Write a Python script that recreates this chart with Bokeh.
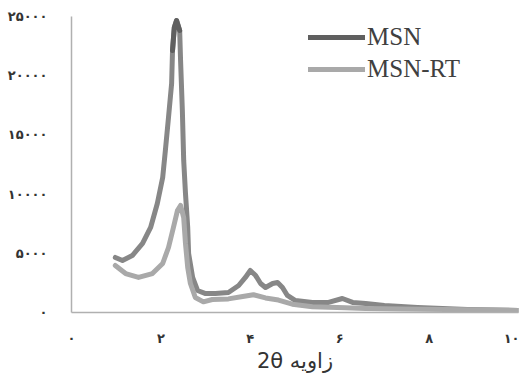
from bokeh.plotting import figure
from bokeh.models import Legend, LegendItem, FixedTicker
from bokeh.embed import file_html
from bokeh.resources import INLINE

# ---- data ----
msn_x = [0.98, 1.14, 1.36, 1.59, 1.77, 1.92, 2.04, 2.10, 2.17, 2.24, 2.26, 2.30, 2.35, 2.42,
         2.44, 2.48, 2.51, 2.55, 2.60, 2.62, 2.71, 2.82, 3.00, 3.22, 3.51, 3.74, 3.89, 4.00,
         4.12, 4.23, 4.34, 4.50, 4.61, 4.72, 4.83, 5.01, 5.39, 5.75, 6.06, 6.29, 6.58, 7.00,
         7.74, 8.86, 10.0]
msn_y = [4650, 4390, 4810, 5830, 7180, 9210, 11400, 13680, 16470, 19340, 22130, 24070, 24660, 23820,
         21280, 17060, 12840, 10050, 7180, 4980, 2960, 1860, 1600, 1600, 1690, 2280, 2960, 3550,
         3120, 2450, 2110, 2450, 2530, 2110, 1440, 1010, 850, 850, 1180, 850, 760, 590,
         420, 250, 170]

rt_x = [0.98, 1.21, 1.50, 1.81, 2.04, 2.17, 2.28, 2.37, 2.44, 2.51, 2.55, 2.60, 2.66, 2.77,
        2.95, 3.15, 3.51, 3.83, 4.07, 4.34, 4.63, 4.94, 5.39, 6.13, 6.58, 7.36, 8.86, 10.0]
rt_y = [3970, 3290, 2960, 3290, 4140, 5490, 7180, 8610, 9040, 8020, 5830, 3800, 2450, 1270,
        900, 1100, 1150, 1350, 1500, 1230, 1050, 700, 480, 400, 340, 300, 230, 170]

x_ticks = [0, 2, 4, 6, 8, 10]
x_tick_labels = ["۰", "۲", "۴", "۶", "۸", "۱۰"]
y_ticks = [0, 5000, 10000, 15000, 20000, 25000]
y_tick_labels = ["۰", "۵۰۰۰", "۱۰۰۰۰", "۱۵۰۰۰", "۲۰۰۰۰", "۲۵۰۰۰"]
series_names = ["MSN", "MSN-RT"]
x_title = "2θ زاویه"

# dark tip of the MSN peak
tip_x = [x for x, y in zip(msn_x, msn_y) if y > 22000]
tip_y = [y for y in msn_y if y > 22000]

p = figure(frame_width=447, frame_height=296, x_range=(0, 10), y_range=(0, 25000),
           output_backend="svg", toolbar_location=None,
           min_border_left=71, min_border_right=1, min_border_top=16, min_border_bottom=50)

p.outline_line_color = None
p.grid.visible = False
p.background_fill_color = "white"

r_msn = p.line(msn_x, msn_y, line_color="#878787", line_width=5,
               line_cap="round", line_join="round")
r_tip = p.line(tip_x, tip_y, line_color="#5f5f5f", line_width=5,
               line_cap="round", line_join="round")
r_rt = p.line(rt_x, rt_y, line_color="#a9a9a9", line_width=5,
              line_cap="round", line_join="round")

for ax, ticks, labels in ((p.xaxis[0], x_ticks, x_tick_labels), (p.yaxis[0], y_ticks, y_tick_labels)):
    ax.ticker = FixedTicker(ticks=ticks)
    ax.major_label_overrides = {t: l for t, l in zip(ticks, labels)}
    ax.major_tick_line_color = None
    ax.minor_tick_line_color = None
    ax.axis_line_color = "#b0b0b0"
    ax.axis_line_width = 1.5
    ax.major_label_text_font = "DejaVu Sans"
    ax.major_label_text_font_size = "13px"
    ax.major_label_text_font_style = "bold"
    ax.major_label_text_color = "#333333"

p.xaxis.major_label_standoff = 12
p.yaxis.major_label_standoff = 18
p.xaxis.axis_label = x_title
p.xaxis.axis_label_text_font = "DejaVu Sans"
p.xaxis.axis_label_text_font_style = "normal"
p.xaxis.axis_label_text_font_size = "21px"
p.xaxis.axis_label_text_color = "#333333"
p.xaxis.axis_label_standoff = 0

legend = Legend(items=[LegendItem(label=series_names[0], renderers=[r_tip]),
                       LegendItem(label=series_names[1], renderers=[r_rt])],
                location=(237, 229))
legend.padding = 0
legend.margin = 0
legend.spacing = 4
legend.glyph_width = 57
legend.glyph_height = 26
legend.label_height = 26
legend.label_standoff = 2
legend.label_text_font = "Liberation Serif"
legend.label_text_font_size = "25px"
legend.label_text_color = "#404040"
legend.border_line_color = None
legend.background_fill_alpha = 0
p.add_layout(legend, "center")

open("out.html", "w").write(file_html(p, INLINE))
